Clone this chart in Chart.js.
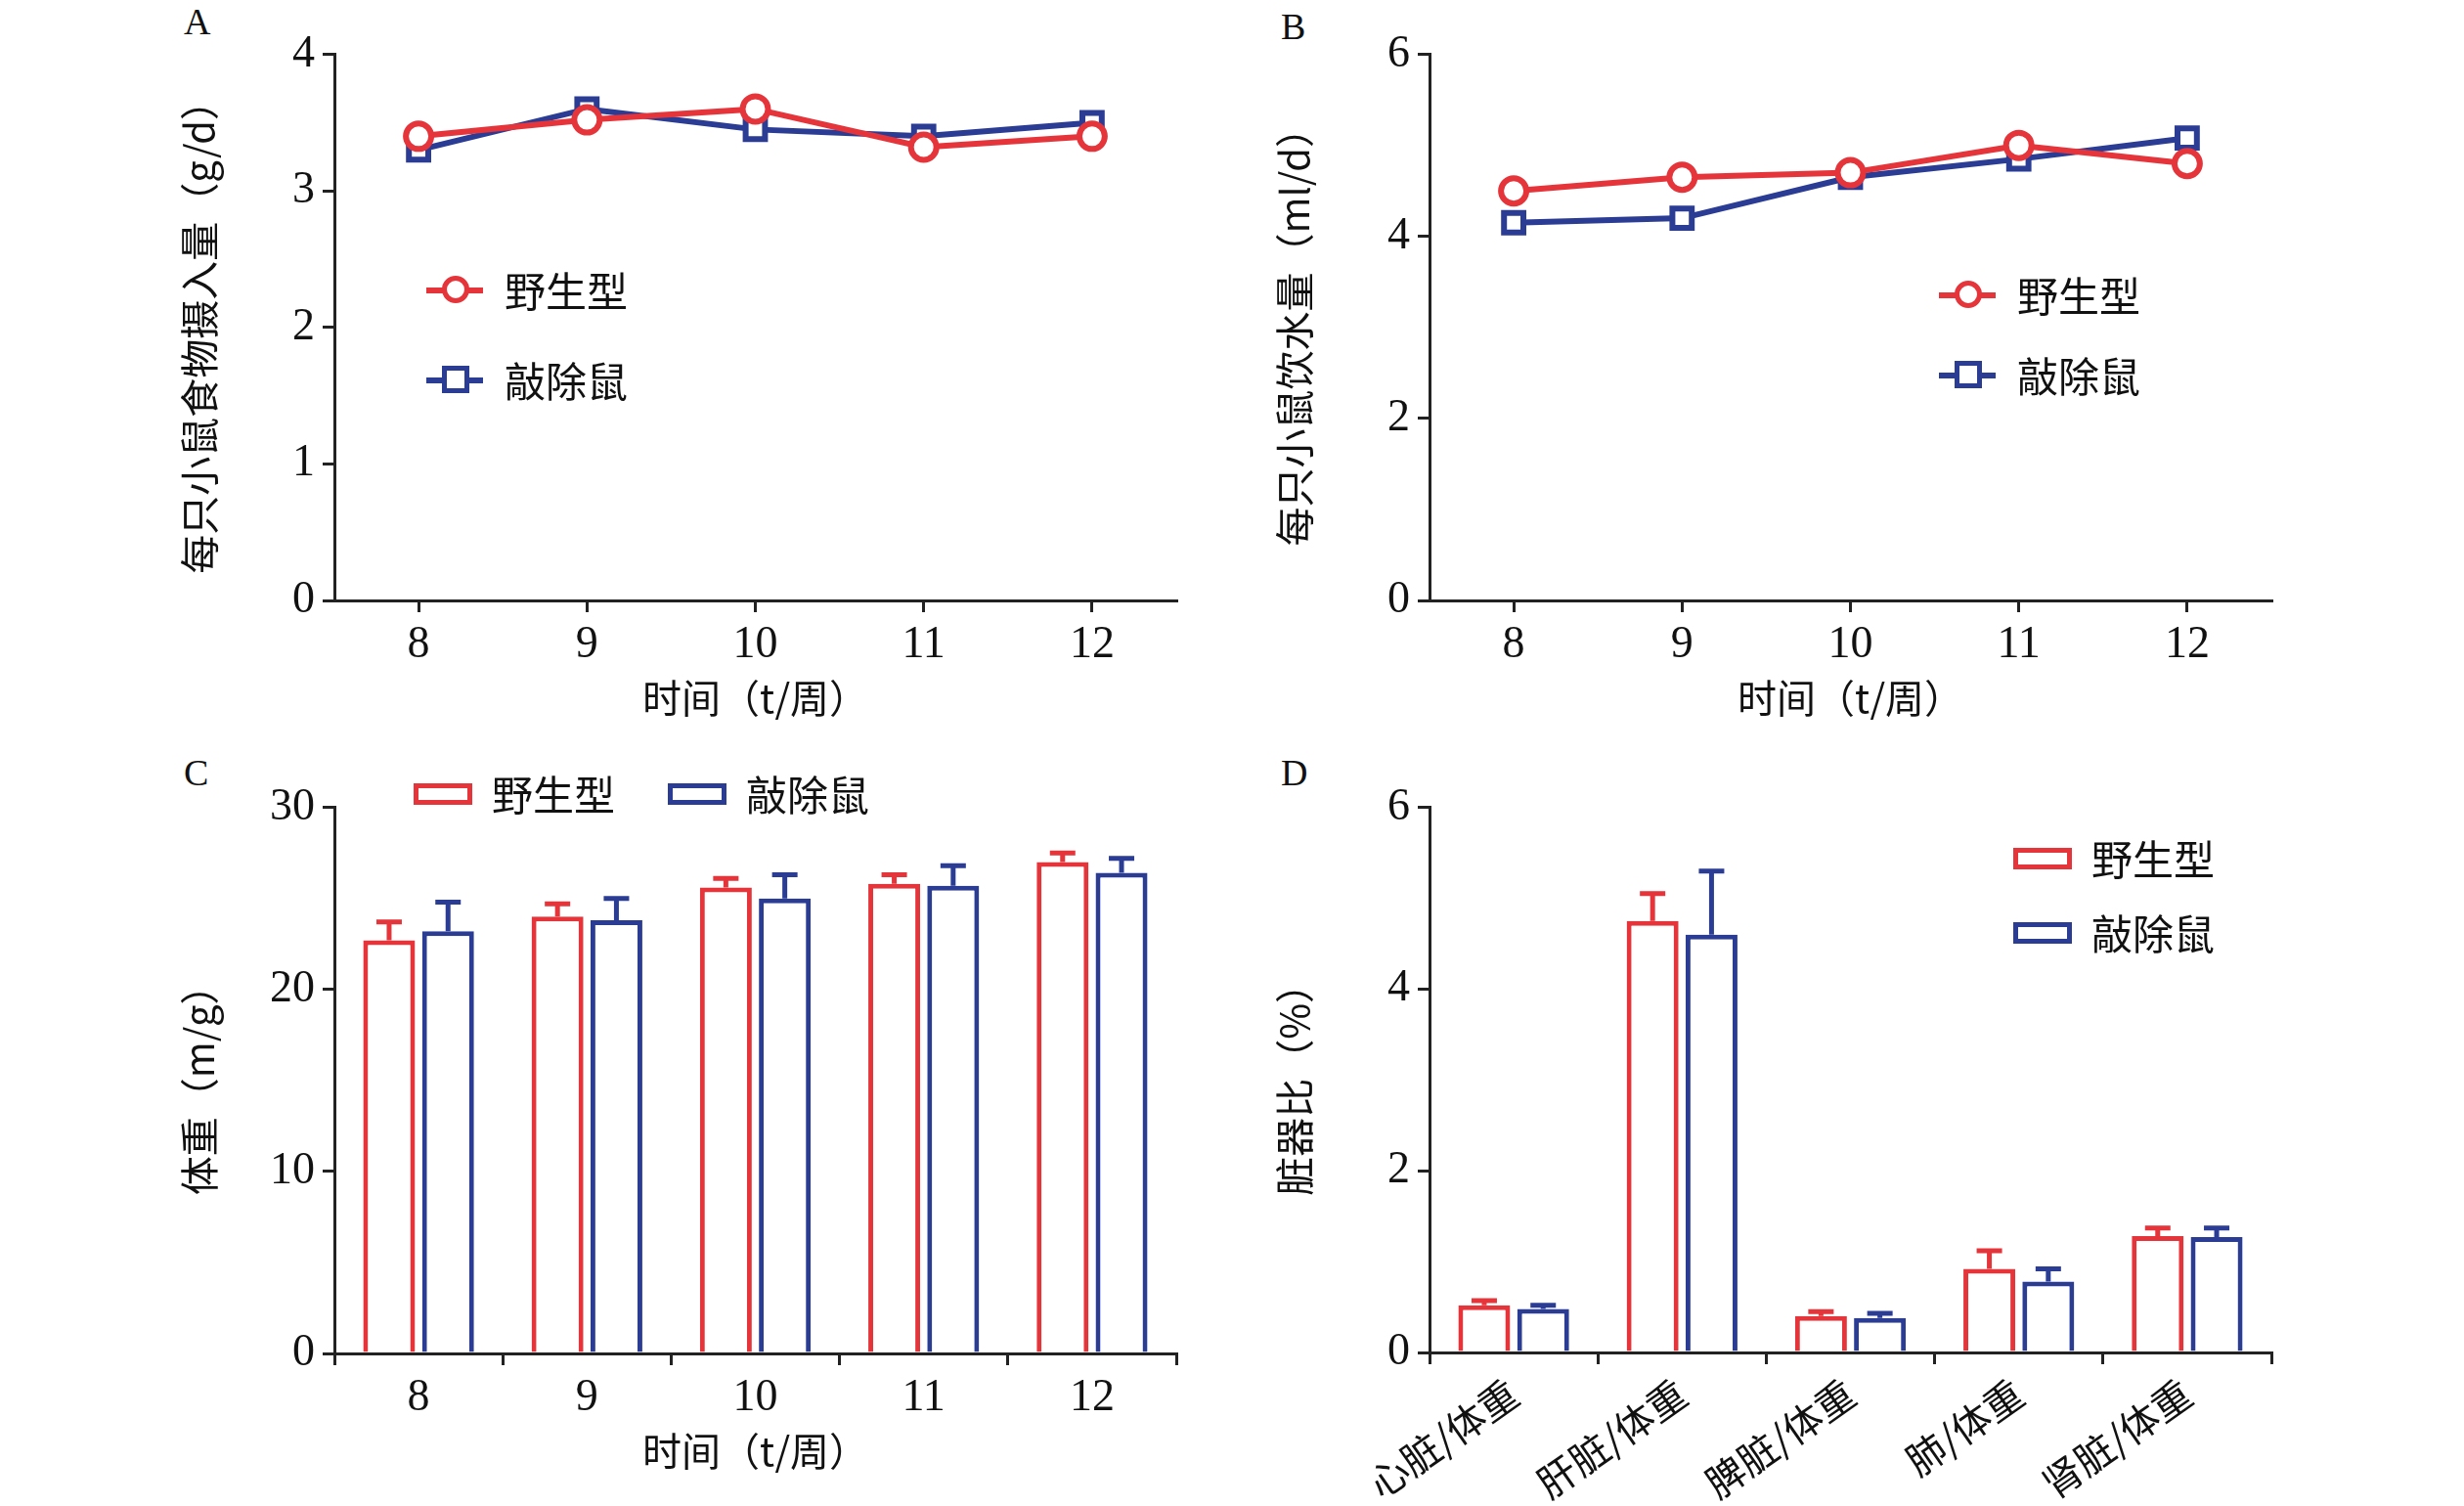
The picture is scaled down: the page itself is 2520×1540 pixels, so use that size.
<!DOCTYPE html>
<html><head><meta charset="utf-8">
<script src="https://cdn.jsdelivr.net/npm/chart.js@4"></script>
<style>
body{margin:0;background:#fff;width:2520px;height:1540px;position:relative;overflow:hidden;font-family:"Liberation Serif","Noto Sans CJK SC",serif;}
.box{position:absolute;}
.lbl{position:absolute;font-size:38px;color:#111;}
.leg{position:absolute;font-size:42px;color:#111;display:flex;align-items:center;font-family:"Noto Sans CJK SC";}
.sw{position:relative;width:58px;height:24px;margin-right:22px;}
.sw .ln{position:absolute;left:0;right:0;top:10px;height:6px;}
.sw .mk{position:absolute;left:16px;top:-2px;width:18px;height:18px;border:5px solid;background:#fff;}
.sw .rc{position:absolute;left:0;top:2px;width:50px;height:12px;border:5px solid;background:#fff;}
</style></head><body>
<div class="lbl" style="left:188px;top:0px">A</div>
<div class="lbl" style="left:1310px;top:5px">B</div>
<div class="lbl" style="left:188px;top:768px">C</div>
<div class="lbl" style="left:1310px;top:768px">D</div>
<div class="box" style="left:150px;top:20px;width:1100px;height:740px"><canvas id="cA"></canvas></div>
<div class="box" style="left:1270px;top:20px;width:1100px;height:740px"><canvas id="cB"></canvas></div>
<div class="box" style="left:150px;top:790px;width:1100px;height:740px"><canvas id="cC"></canvas></div>
<div class="box" style="left:1270px;top:790px;width:1100px;height:750px"><canvas id="cD"></canvas></div>

<div class="leg" style="left:436px;top:265px"><div class="sw"><div class="ln" style="background:#e5343a"></div><div class="mk" style="border-color:#e5343a;border-radius:50%"></div></div>野生型</div>
<div class="leg" style="left:436px;top:357px"><div class="sw"><div class="ln" style="background:#2b3c94"></div><div class="mk" style="border-color:#2b3c94"></div></div>敲除鼠</div>
<div class="leg" style="left:1983px;top:270px"><div class="sw"><div class="ln" style="background:#e5343a"></div><div class="mk" style="border-color:#e5343a;border-radius:50%"></div></div>野生型</div>
<div class="leg" style="left:1983px;top:352px"><div class="sw"><div class="ln" style="background:#2b3c94"></div><div class="mk" style="border-color:#2b3c94"></div></div>敲除鼠</div>
<div class="leg" style="left:423px;top:780px"><div class="sw"><div class="rc" style="border-color:#e5343a"></div></div>野生型</div>
<div class="leg" style="left:683px;top:780px"><div class="sw"><div class="rc" style="border-color:#2b3c94"></div></div>敲除鼠</div>
<div class="leg" style="left:2059px;top:846px"><div class="sw"><div class="rc" style="border-color:#e5343a"></div></div>野生型</div>
<div class="leg" style="left:2059px;top:922px"><div class="sw"><div class="rc" style="border-color:#2b3c94"></div></div>敲除鼠</div>

<script>
const weeks = ["8","9","10","11","12"];
const organs = ["心脏/体重","肝脏/体重","脾脏/体重","肺/体重","肾脏/体重"];
const foodWT = [3.4, 3.52, 3.6, 3.32, 3.4];
const foodKO = [3.3, 3.6, 3.45, 3.4, 3.5];
const waterWT = [4.5, 4.65, 4.7, 5.0, 4.8];
const waterKO = [4.15, 4.2, 4.65, 4.85, 5.08];
const weightWT = [22.7, 24.0, 25.6, 25.8, 27.0];
const weightWTerr = [1.0, 0.7, 0.5, 0.5, 0.5];
const weightKO = [23.2, 23.8, 25.0, 25.7, 26.4];
const weightKOerr = [1.6, 1.2, 1.3, 1.1, 0.8];
const organWT = [0.52, 4.75, 0.4, 0.92, 1.28];
const organWTerr = [0.05, 0.3, 0.05, 0.2, 0.09];
const organKO = [0.48, 4.6, 0.38, 0.78, 1.27];
const organKOerr = [0.04, 0.7, 0.05, 0.14, 0.1];

const RED = "#e5343a", BLUE = "#2b3c94";
const FONT = {family: "'Liberation Serif','Noto Sans CJK SC',serif", size: 46};
const CJK = {family: "'Noto Sans CJK SC',sans-serif", size: 40};

const errPlugin = {
  id: "err",
  afterDatasetsDraw(chart) {
    const ctx = chart.ctx, y = chart.scales.y;
    chart.data.datasets.forEach((ds, i) => {
      if (!ds.err) return;
      chart.getDatasetMeta(i).data.forEach((bar, j) => {
        const y0 = y.getPixelForValue(ds.data[j]);
        const y1 = y.getPixelForValue(ds.data[j] + ds.err[j]);
        ctx.save();
        ctx.strokeStyle = ds.borderColor; ctx.lineWidth = 5;
        ctx.beginPath();
        ctx.moveTo(bar.x, y0); ctx.lineTo(bar.x, y1);
        ctx.moveTo(bar.x - 13, y1); ctx.lineTo(bar.x + 13, y1);
        ctx.stroke(); ctx.restore();
      });
    });
  }
};

function axes(yMax, yStep, yTitle, xTitle, yW, xH, rot) {
  const grid = {display: true, drawOnChartArea: false, drawTicks: true, tickLength: 12, color: "#222", lineWidth: 3};
  return {
    x: {offset: true, grid: grid, border: {color: "#222", width: 3},
        ticks: {font: rot ? CJK : FONT, color: "#111", maxRotation: rot || 0, minRotation: rot || 0, padding: 6},
        title: {display: !!xTitle, text: xTitle, font: CJK, color: "#111", padding: {top: 0, bottom: 22}},
        afterFit(s) { s.height = xH; }},
    y: {min: 0, max: yMax, grid: grid, border: {color: "#222", width: 3},
        ticks: {stepSize: yStep, font: FONT, color: "#111", padding: 8},
        title: {display: true, text: yTitle, font: CJK, color: "#111", padding: {top: 30, bottom: 0}},
        afterFit(s) { s.width = yW; }}
  };
}

function lineChart(id, labels, a, b, yMax, yStep, yTitle) {
  new Chart(document.getElementById(id), {
    type: "line",
    data: {labels: labels, datasets: [
      {data: a, borderColor: RED, backgroundColor: "#fff", borderWidth: 6, pointStyle: "circle", pointRadius: 13, pointBorderWidth: 6},
      {data: b, borderColor: BLUE, backgroundColor: "#fff", borderWidth: 6, pointStyle: "rect", pointRadius: 14, pointBorderWidth: 6}
    ]},
    options: {responsive: false, animation: false, maintainAspectRatio: false,
      layout: {padding: {top: 7, right: 47}},
      plugins: {legend: {display: false}, tooltip: {enabled: false}},
      scales: axes(yMax, yStep, yTitle, "时间（t/周）", 192, 146)}
  });
}

function barChart(id, labels, a, ae, b, be, yMax, yStep, yTitle, xTitle, xH, rot) {
  new Chart(document.getElementById(id), {
    type: "bar",
    data: {labels: labels, datasets: [
      {data: a, err: ae, borderColor: RED, backgroundColor: "#fff", borderWidth: 5, borderSkipped: "bottom"},
      {data: b, err: be, borderColor: BLUE, backgroundColor: "#fff", borderWidth: 5, borderSkipped: "bottom"}
    ]},
    options: {responsive: false, animation: false, maintainAspectRatio: false,
      datasets: {bar: {categoryPercentage: 0.7, barPercentage: 0.88}},
      layout: {padding: {top: 6, right: 47}},
      plugins: {legend: {display: false}, tooltip: {enabled: false}},
      scales: axes(yMax, yStep, yTitle, xTitle, 192, xH, rot)},
    plugins: [errPlugin]
  });
}

for (const [id, w, h] of [["cA",1100,740],["cB",1100,740],["cC",1100,740],["cD",1100,750]]) {
  const c = document.getElementById(id); c.width = w; c.height = h; c.style.width = w + "px"; c.style.height = h + "px";
}
lineChart("cA", weeks, foodWT, foodKO, 4, 1, "每只小鼠食物摄入量（g/d）");
lineChart("cB", weeks, waterWT, waterKO, 6, 2, "每只小鼠饮水量（ml/d）");
barChart("cC", weeks, weightWT, weightWTerr, weightKO, weightKOerr, 30, 10, "体重（m/g）", "时间（t/周）", 146, 0);
barChart("cD", organs, organWT, organWTerr, organKO, organKOerr, 6, 2, "脏器比（%）", "", 157, 35);
</script>
</body></html>
